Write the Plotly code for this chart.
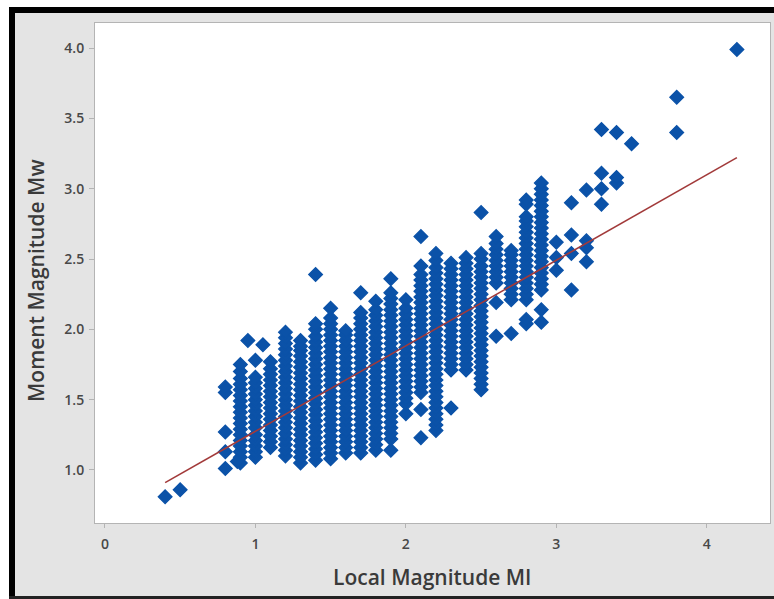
import plotly.graph_objects as go

# Local magnitude (Ml) is reported in 0.1 steps; each list holds the Mw values at one Ml level.
ml_levels = [0.4, 0.5, 0.8, 0.9, 1.0, 1.1, 1.2, 1.3, 1.4, 1.5, 1.6, 1.7, 1.8, 1.9,
             2.0, 2.1, 2.2, 2.3, 2.4, 2.5, 2.6, 2.7, 2.8, 2.9, 3.0, 3.1, 3.2, 3.3,
             3.4, 3.5, 3.8, 4.2]

mw_0_4 = [0.81]
mw_0_5 = [0.86]
mw_0_8 = [1.01, 1.13, 1.27, 1.55, 1.59]
mw_0_9 = [1.05, 1.09, 1.13, 1.17, 1.21, 1.25, 1.29, 1.33, 1.37, 1.41, 1.45, 1.49,
          1.53, 1.57, 1.61, 1.65, 1.70, 1.75]
mw_1_0 = [1.09, 1.13, 1.17, 1.21, 1.25, 1.30, 1.34, 1.38, 1.42, 1.46, 1.50, 1.54,
          1.58, 1.62, 1.66, 1.78]
mw_1_1 = [1.16, 1.20, 1.24, 1.28, 1.32, 1.36, 1.40, 1.44, 1.48, 1.52, 1.56, 1.60,
          1.64, 1.68, 1.72, 1.77]
mw_1_2 = [1.10, 1.14, 1.18, 1.22, 1.26, 1.30, 1.34, 1.38, 1.42, 1.46, 1.50, 1.54,
          1.58, 1.62, 1.66, 1.70, 1.74, 1.78, 1.82, 1.86, 1.90, 1.94, 1.98]
mw_1_3 = [1.05, 1.09, 1.13, 1.17, 1.21, 1.25, 1.29, 1.33, 1.37, 1.41, 1.45, 1.49,
          1.53, 1.57, 1.61, 1.65, 1.69, 1.73, 1.77, 1.81, 1.85, 1.88, 1.92]
mw_1_4 = [1.07, 1.11, 1.15, 1.19, 1.23, 1.27, 1.31, 1.35, 1.39, 1.43, 1.47, 1.51,
          1.55, 1.59, 1.63, 1.67, 1.71, 1.75, 1.79, 1.83, 1.87, 1.91, 1.95, 2.00,
          2.04, 2.39]
mw_1_5 = [1.08, 1.12, 1.16, 1.20, 1.24, 1.28, 1.32, 1.36, 1.40, 1.44, 1.48, 1.52,
          1.56, 1.60, 1.64, 1.68, 1.72, 1.76, 1.80, 1.84, 1.88, 1.92, 1.96, 2.00,
          2.04, 2.08, 2.15]
mw_1_6 = [1.12, 1.16, 1.20, 1.24, 1.28, 1.32, 1.36, 1.40, 1.44, 1.48, 1.52, 1.56,
          1.60, 1.64, 1.68, 1.72, 1.76, 1.80, 1.84, 1.88, 1.92, 1.96, 1.99]
mw_1_7 = [1.12, 1.16, 1.20, 1.24, 1.28, 1.32, 1.36, 1.40, 1.44, 1.48, 1.52, 1.56,
          1.60, 1.64, 1.68, 1.72, 1.76, 1.80, 1.84, 1.88, 1.92, 1.96, 2.00, 2.04,
          2.08, 2.12, 2.26]
mw_1_8 = [1.14, 1.18, 1.22, 1.26, 1.30, 1.34, 1.38, 1.42, 1.46, 1.50, 1.54, 1.58,
          1.62, 1.66, 1.70, 1.74, 1.78, 1.82, 1.86, 1.90, 1.94, 1.98, 2.02, 2.06,
          2.10, 2.14, 2.20]
mw_1_9 = [1.14, 1.22, 1.26, 1.30, 1.34, 1.38, 1.42, 1.46, 1.50, 1.54, 1.58, 1.62,
          1.66, 1.70, 1.74, 1.78, 1.82, 1.86, 1.90, 1.94, 1.98, 2.02, 2.06, 2.10,
          2.14, 2.18, 2.22, 2.26, 2.36]
mw_2_0 = [1.40, 1.47, 1.51, 1.55, 1.59, 1.63, 1.67, 1.71, 1.75, 1.79, 1.83, 1.87,
          1.91, 1.95, 1.99, 2.03, 2.07, 2.11, 2.15, 2.21]
mw_2_1 = [1.23, 1.43, 1.55, 1.59, 1.63, 1.67, 1.71, 1.75, 1.79, 1.83, 1.87, 1.91,
          1.95, 1.99, 2.03, 2.07, 2.11, 2.15, 2.19, 2.23, 2.27, 2.31, 2.35, 2.39,
          2.45, 2.66]
mw_2_2 = [1.28, 1.32, 1.36, 1.40, 1.44, 1.48, 1.52, 1.56, 1.60, 1.64, 1.68, 1.72,
          1.76, 1.80, 1.84, 1.88, 1.92, 1.96, 2.00, 2.04, 2.08, 2.12, 2.16, 2.20,
          2.24, 2.28, 2.32, 2.36, 2.40, 2.44, 2.49, 2.54]
mw_2_3 = [1.44, 1.71, 1.75, 1.79, 1.83, 1.87, 1.91, 1.95, 1.99, 2.03, 2.07, 2.11,
          2.15, 2.19, 2.23, 2.27, 2.31, 2.35, 2.39, 2.43, 2.47]
mw_2_4 = [1.71, 1.75, 1.79, 1.83, 1.87, 1.91, 1.95, 1.99, 2.03, 2.07, 2.11, 2.15,
          2.19, 2.23, 2.27, 2.31, 2.35, 2.39, 2.43, 2.47, 2.51]
mw_2_5 = [1.57, 1.61, 1.65, 1.69, 1.73, 1.77, 1.81, 1.85, 1.89, 1.93, 1.97, 2.01,
          2.05, 2.09, 2.13, 2.17, 2.21, 2.25, 2.29, 2.33, 2.37, 2.41, 2.45, 2.50,
          2.54, 2.83]
mw_2_6 = [1.95, 2.19, 2.33, 2.37, 2.41, 2.45, 2.49, 2.53, 2.57, 2.61, 2.66]
mw_2_7 = [1.97, 2.21, 2.25, 2.29, 2.33, 2.37, 2.41, 2.45, 2.49, 2.53, 2.56]
mw_2_8 = [2.04, 2.07, 2.21, 2.25, 2.29, 2.33, 2.37, 2.41, 2.45, 2.49, 2.53, 2.57,
          2.61, 2.65, 2.69, 2.73, 2.77, 2.80, 2.89, 2.92]
mw_2_9 = [2.05, 2.14, 2.28, 2.32, 2.36, 2.40, 2.44, 2.48, 2.52, 2.56, 2.60, 2.64,
          2.68, 2.72, 2.76, 2.80, 2.84, 2.88, 2.92, 2.96, 3.00, 3.04]
mw_3_0 = [2.42, 2.51, 2.62]
mw_3_1 = [2.28, 2.54, 2.67, 2.90]
mw_3_2 = [2.48, 2.58, 2.63, 2.99]
mw_3_3 = [2.89, 3.00, 3.11, 3.42]
mw_3_4 = [3.04, 3.08, 3.40]
mw_3_5 = [3.32]
mw_3_8 = [3.40, 3.65]
mw_4_2 = [3.99]

mw_columns = [mw_0_4, mw_0_5, mw_0_8, mw_0_9, mw_1_0, mw_1_1, mw_1_2, mw_1_3,
              mw_1_4, mw_1_5, mw_1_6, mw_1_7, mw_1_8, mw_1_9, mw_2_0, mw_2_1,
              mw_2_2, mw_2_3, mw_2_4, mw_2_5, mw_2_6, mw_2_7, mw_2_8, mw_2_9,
              mw_3_0, mw_3_1, mw_3_2, mw_3_3, mw_3_4, mw_3_5, mw_3_8, mw_4_2]

# A few events reported with a finer Ml value
extra_ml = [0.88, 0.95, 1.05]
extra_mw = [1.06, 1.92, 1.89]

# Least-squares fit Mw = a + b * Ml, drawn over the observed Ml range
fit_intercept = 0.667
fit_slope = 0.608
fit_ml = [0.4, 4.2]

x_ticks = [0, 1, 2, 3, 4]
y_ticks = [1.0, 1.5, 2.0, 2.5, 3.0, 3.5, 4.0]

ml_all, mw_all = [], []
for ml, col in zip(ml_levels, mw_columns):
    ml_all += [ml] * len(col)
    mw_all += col
ml_all += extra_ml
mw_all += extra_mw

fit_mw = [fit_intercept + fit_slope * m for m in fit_ml]

W, H = 774, 599
L, R, T, B = 95, 4, 23, 76
pw, ph = W - L - R, H - T - B


def px(xp):
    return (xp - L) / pw


def py(yp):
    return (H - B - yp) / ph


blue = "#0B52A8"
fig = go.Figure()
fig.add_trace(go.Scatter(
    x=ml_all, y=mw_all, mode="markers",
    marker=dict(symbol="diamond", size=10.5, color=blue, line=dict(width=1.3, color=blue)),
    showlegend=False,
))
fig.add_trace(go.Scatter(
    x=fit_ml, y=fit_mw, mode="lines",
    line=dict(color="#A23A3A", width=1.6),
    showlegend=False,
))

# Window frame: white strip, black border bands
shapes = [
    dict(type="rect", xref="paper", yref="paper", x0=px(0), x1=px(W), y0=py(0), y1=py(7),
         fillcolor="white", line=dict(width=0), layer="above"),
    dict(type="rect", xref="paper", yref="paper", x0=px(0), x1=px(9), y0=py(0), y1=py(H),
         fillcolor="white", line=dict(width=0), layer="above"),
    dict(type="rect", xref="paper", yref="paper", x0=px(9), x1=px(W), y0=py(7), y1=py(13),
         fillcolor="black", line=dict(width=0), layer="above"),
    dict(type="rect", xref="paper", yref="paper", x0=px(9), x1=px(15), y0=py(7), y1=py(H),
         fillcolor="black", line=dict(width=0), layer="above"),
    dict(type="rect", xref="paper", yref="paper", x0=px(9), x1=px(W), y0=py(596), y1=py(H),
         fillcolor="#222222", line=dict(width=0), layer="above"),
]

axis_font = dict(family="Open Sans, DejaVu Sans, sans-serif", size=14, color="#484848",
                 weight=600)
title_font = dict(family="Open Sans, DejaVu Sans, sans-serif", size=21, color="#3A3A3A",
                  weight=600)

fig.update_layout(
    width=W, height=H, autosize=False,
    margin=dict(l=L, r=R, t=T, b=B, pad=0),
    paper_bgcolor="#E4E4E4", plot_bgcolor="white",
    shapes=shapes,
    annotations=[
        dict(text="Local Magnitude Ml", xref="paper", yref="paper",
             x=px(432), y=py(577), showarrow=False, font=title_font,
             xanchor="center", yanchor="middle"),
        dict(text="Moment Magnitude Mw", xref="paper", yref="paper",
             x=px(36), y=py(281), showarrow=False, font=title_font, textangle=-90,
             xanchor="center", yanchor="middle"),
    ],
)
fig.update_xaxes(
    range=[-0.066, 4.42], tickvals=x_ticks, ticktext=[str(v) for v in x_ticks],
    showgrid=False, zeroline=False, showline=True, linecolor="#B4B4B4", linewidth=1,
    mirror=True, ticks="outside", ticklen=4, tickcolor="#B4B4B4",
    tickfont=axis_font, ticklabelstandoff=4,
)
fig.update_yaxes(
    range=[0.623, 4.178], tickvals=y_ticks, ticktext=[f"{v:.1f}" for v in y_ticks],
    showgrid=False, zeroline=False, showline=True, linecolor="#B4B4B4", linewidth=1,
    mirror=True, ticks="outside", ticklen=5, tickcolor="#B4B4B4",
    tickfont=axis_font, ticklabelstandoff=2,
)

fig.write_html("out.html")
